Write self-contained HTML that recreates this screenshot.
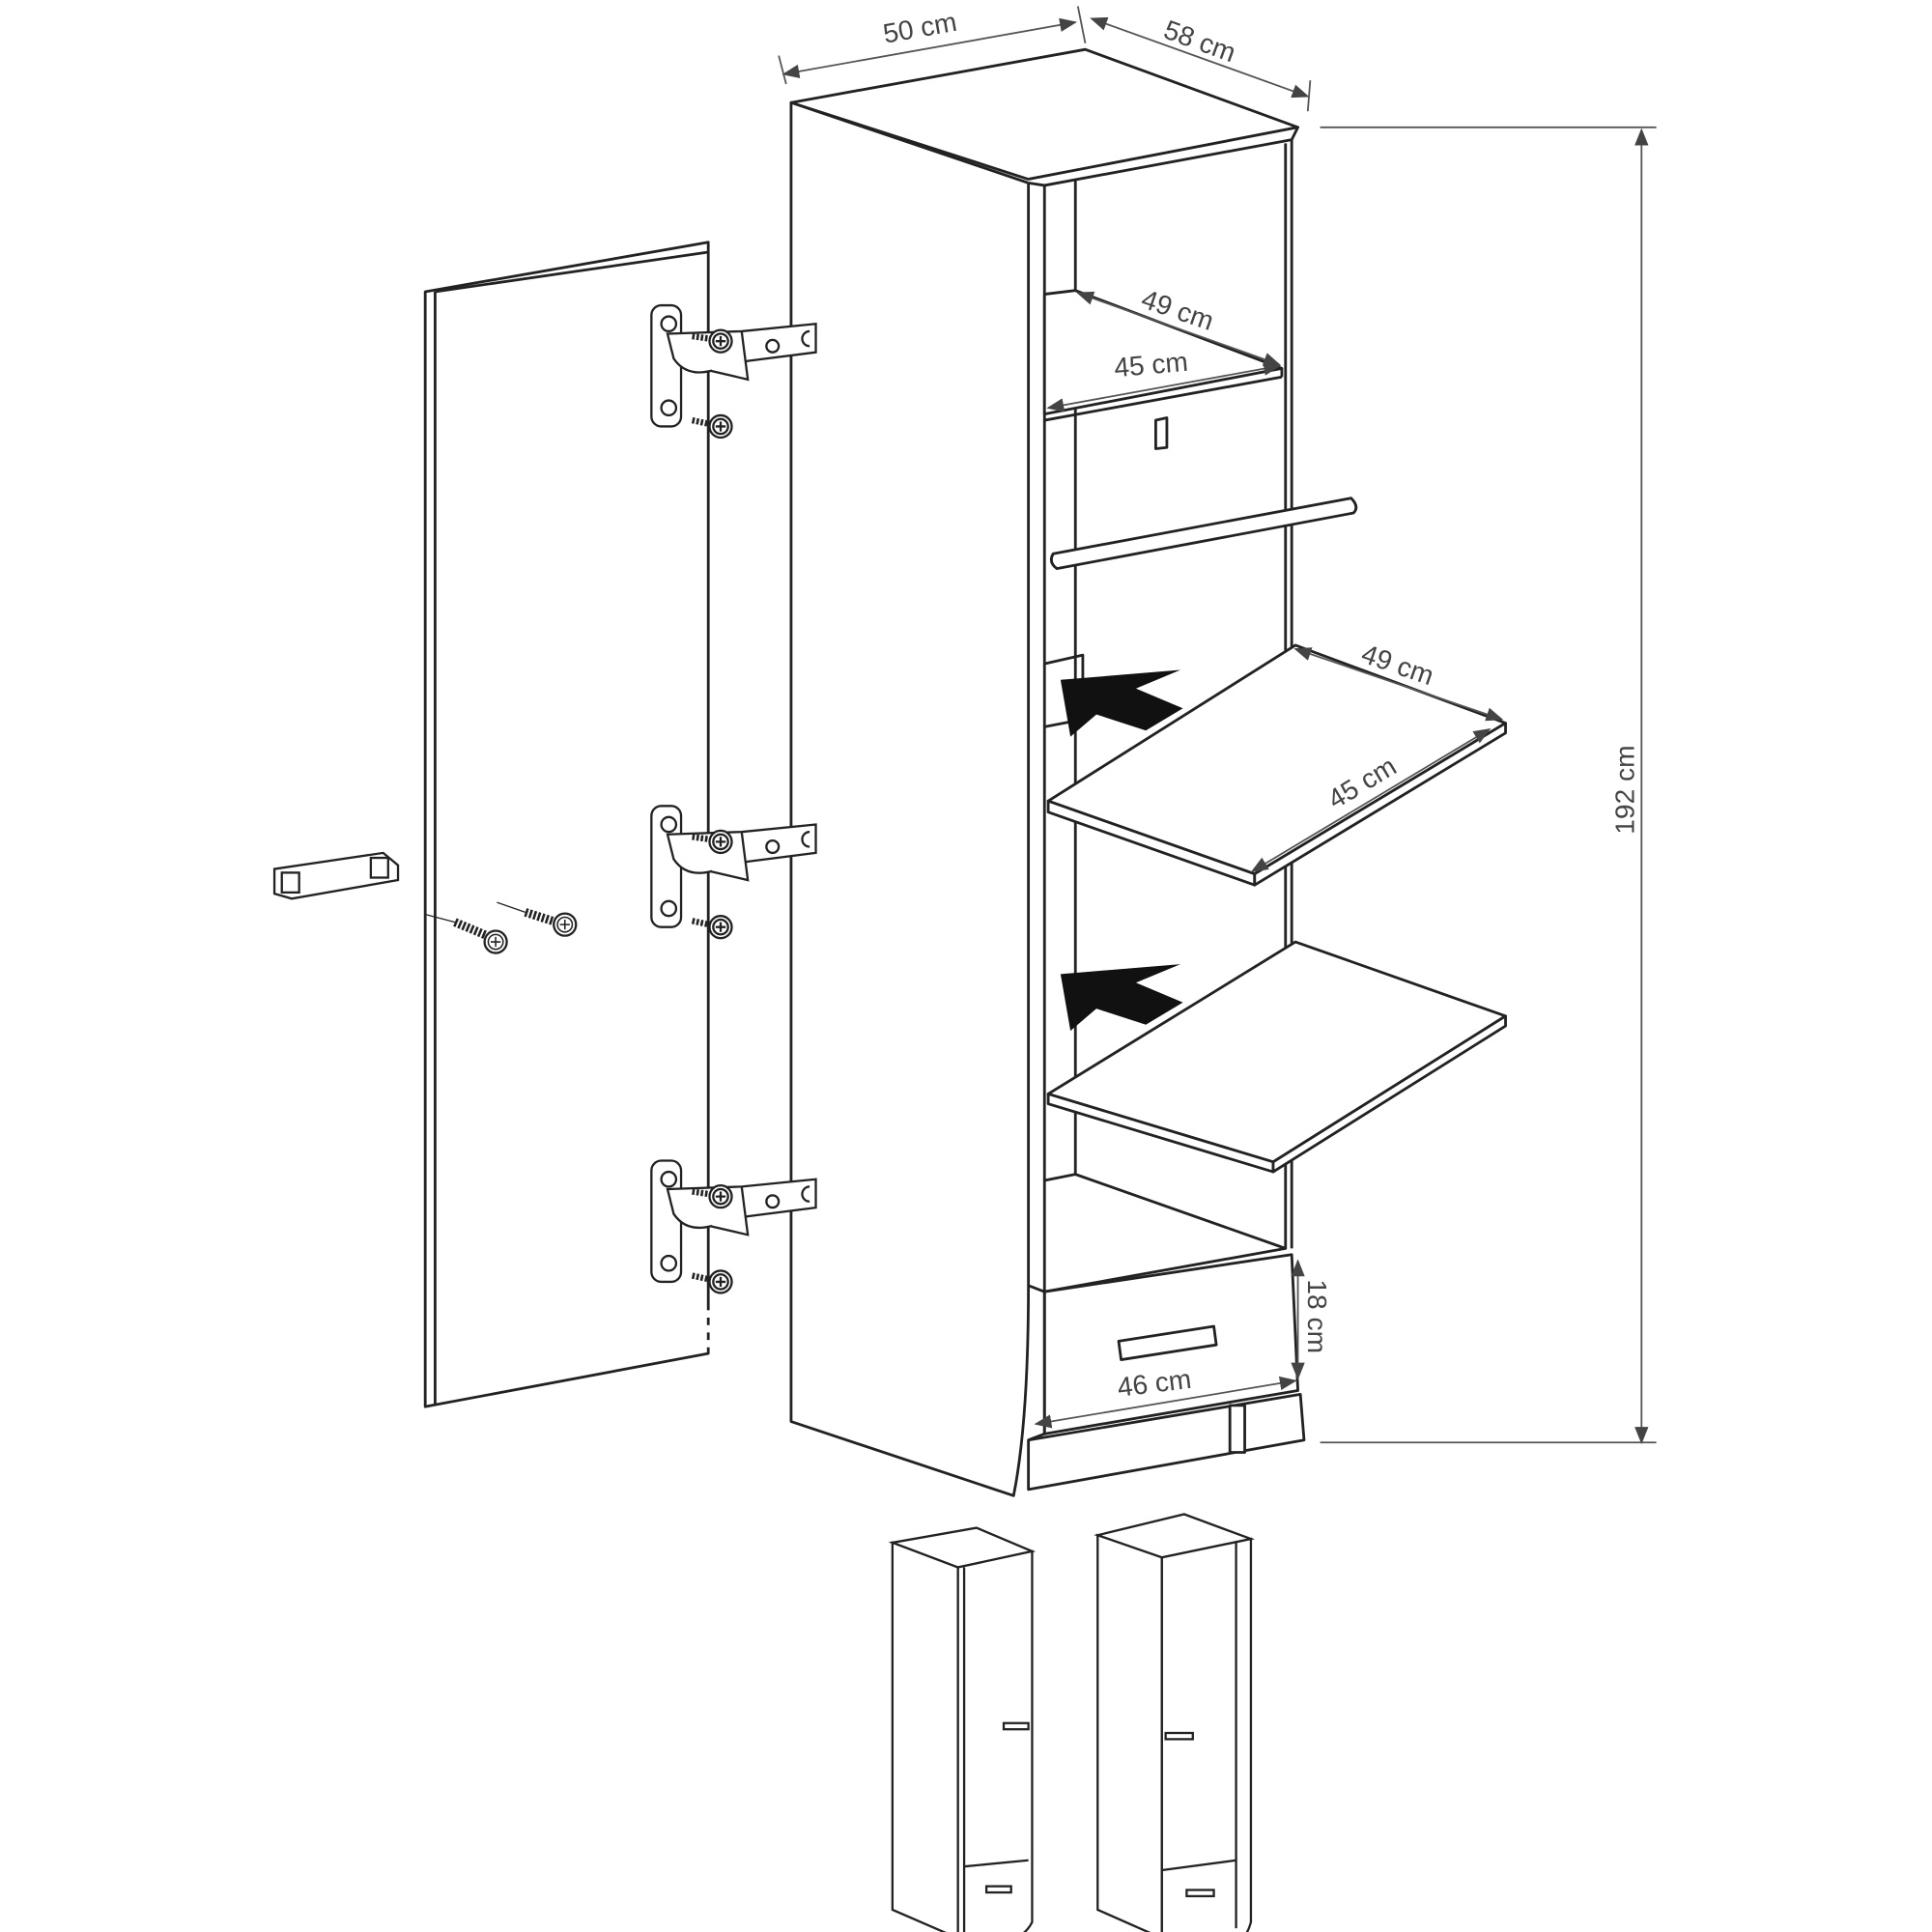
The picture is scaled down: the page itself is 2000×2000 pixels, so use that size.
<!DOCTYPE html>
<html><head><meta charset="utf-8"><style>
html,body{margin:0;padding:0;background:#fff;}
svg{display:block;}
text{font-family:"Liberation Sans",sans-serif;fill:#444;font-size:22px;}
</style></head><body>
<svg width="2000" height="2000" viewBox="0 0 1563 1563" xmlns="http://www.w3.org/2000/svg">
<defs>
<marker id="a" markerWidth="10" markerHeight="8" refX="9" refY="4" orient="auto-start-reverse"><path d="M0,0 L10,4 L0,8z" fill="#444"/></marker>
</defs>
<g fill="#fff" stroke="#222" stroke-width="2.2" stroke-linejoin="round">
<polygon points="640,83 878,40 1050,103 832,145"/>
<path d="M640,83 L832,148 L832,1040 Q832,1150 820,1210 L640,1150 Z"/>
<path d="M832,148 L845,150 L1045,113 L1050,103 L832,145"/>
<line x1="845" y1="150" x2="845" y2="1045"/>
<line x1="870" y1="145" x2="870" y2="950"/>
<line x1="1045" y1="113" x2="1045" y2="1010"/>
<line x1="1040" y1="116" x2="1040" y2="1010"/>
<polygon points="845,238 870,235 1037,298 845,335"/>
<line x1="845" y1="340" x2="1037" y2="305"/>
<line x1="1037" y1="298" x2="1037" y2="305"/>
<polyline points="845,955 870,950 1040,1010 845,1045" fill="none"/>
<polygon points="845,1045 1045,1015 1050,1125 845,1160"/>
<path d="M832,1040 L845,1045 L845,1160 L832,1165" fill="none"/>
<polygon points="832,1165 1052,1128 1055,1165 832,1205"/>
<rect x="995" y="1137" width="12" height="38" />
<polygon points="905,1085 982,1073 984,1088 907,1100"/>
<path d="M852,448 L1093,403 Q1100,410 1095,415 L855,460 Q848,455 852,448Z"/>
<path d="M935,340 L944,338 L944,362 L935,363 Z"/>
<polyline points="845,537 876,530 876,582 845,588" fill="none"/>
<polygon points="848,648 1048,522 1218,585 1015,707"/>
<polygon points="848,648 1015,707 1015,716 848,657"/>
<polygon points="1015,707 1218,585 1218,593 1015,716"/>
<polygon points="848,885 1048,762 1218,822 1030,940"/>
<polygon points="848,885 1030,940 1030,948 848,893"/>
<polygon points="1030,940 1218,822 1218,830 1030,948"/>
<polygon points="344,236 573,196 573,1095 344,1138"/>
<line x1="352" y1="236" x2="352" y2="1136"/>
<line x1="352" y1="236" x2="573" y2="204" />
</g>
<polygon points="858,550 955,542 919,557 957,573 927,591 887,578 866,596" fill="#111"/>
<polygon points="858,788 955,780 919,795 957,811 927,829 887,816 866,834" fill="#111"/>
<g fill="#fff" stroke="#222" stroke-width="1.8">
<g id="h">
<rect x="527" y="247" width="24" height="98" rx="8"/>
<path d="M540,270 L600,268 L660,262 L660,285 L605,292 L575,300 Q555,305 545,290Z"/>
<path d="M600,268 L605,307 L575,300"/>
<circle cx="541" cy="262" r="6"/><circle cx="541" cy="330" r="6"/>
<circle cx="625" cy="280" r="5"/>
<path d="M655,268 a6,6 0 1 0 0,12" fill="none"/>
<circle cx="583" cy="276" r="9"/><circle cx="583" cy="345" r="9"/>
<circle cx="583" cy="276" r="6"/><circle cx="583" cy="345" r="6"/>
<path d="M579,276h8M583,272v8M579,345h8M583,341v8"/>
<line x1="560" y1="272" x2="574" y2="274" stroke-width="5" stroke-dasharray="2,1.5"/><line x1="560" y1="340" x2="574" y2="343" stroke-width="5" stroke-dasharray="2,1.5"/>
</g>
<use href="#h" y="405"/>
<use href="#h" y="692"/>
<polygon points="222,703 310,690 322,700 322,712 236,727 222,723"/>
<rect x="228" y="706" width="14" height="16"/>
<rect x="300" y="694" width="14" height="16"/>
</g>
<g stroke="#222" fill="#fff">
<line x1="345" y1="740" x2="368" y2="746" stroke-width="1"/>
<line x1="368" y1="746" x2="394" y2="757" stroke-width="7" stroke-dasharray="2,1.5"/>
<circle cx="401" cy="762" r="9" stroke-width="1.8"/><circle cx="401" cy="762" r="6" stroke-width="1.2"/>
<path d="M397,762h8M401,758v8" stroke-width="1.2"/>
<line x1="402" y1="730" x2="425" y2="738" stroke-width="1"/>
<line x1="425" y1="738" x2="450" y2="746" stroke-width="7" stroke-dasharray="2,1.5"/>
<circle cx="457" cy="748" r="9" stroke-width="1.8"/><circle cx="457" cy="748" r="6" stroke-width="1.2"/>
<path d="M453,748h8M457,744v8" stroke-width="1.2"/>
</g>
<line x1="573" y1="1060" x2="573" y2="1095" stroke="#fff" stroke-width="3" stroke-dasharray="6,6"/>
<g fill="#fff" stroke="#222" stroke-width="1.8">
<polygon points="722,1248 790,1236 835,1255 775,1268"/>
<path d="M722,1248 L775,1268 L775,1568 L722,1545Z"/>
<path d="M775,1268 L835,1255 L835,1555 Q830,1565 820,1568 L775,1568Z"/>
<line x1="780" y1="1268" x2="780" y2="1568"/>
<rect x="812" y="1394" width="20" height="5"/>
<rect x="798" y="1526" width="20" height="5"/>
<line x1="780" y1="1510" x2="832" y2="1505"/>
<polygon points="888,1242 958,1225 1012,1245 940,1260"/>
<path d="M888,1242 L940,1260 L940,1568 L888,1545Z"/>
<path d="M940,1260 L1012,1245 L1012,1555 Q1008,1570 998,1572 L940,1575Z"/>
<line x1="1000" y1="1248" x2="1000" y2="1560"/>
<rect x="943" y="1402" width="22" height="5"/>
<rect x="960" y="1529" width="22" height="5"/>
<line x1="940" y1="1513" x2="1000" y2="1505"/>
</g>
<g stroke="#555" stroke-width="1.4" fill="none">
<line x1="634" y1="60" x2="870" y2="18" marker-start="url(#a)" marker-end="url(#a)"/>
<line x1="630" y1="45" x2="636" y2="68"/><line x1="872" y1="5" x2="878" y2="35"/>
<line x1="883" y1="15" x2="1058" y2="78" marker-start="url(#a)" marker-end="url(#a)"/>
<line x1="1060" y1="65" x2="1058" y2="90"/>
<line x1="1328" y1="105" x2="1328" y2="1167" marker-start="url(#a)" marker-end="url(#a)"/>
<line x1="1068" y1="103" x2="1340" y2="103"/><line x1="1068" y1="1167" x2="1340" y2="1167"/>
<line x1="872" y1="237" x2="1035" y2="295" marker-start="url(#a)" marker-end="url(#a)"/>
<line x1="848" y1="330" x2="1035" y2="296" marker-start="url(#a)" marker-end="url(#a)"/>
<line x1="1048" y1="525" x2="1215" y2="582" marker-start="url(#a)" marker-end="url(#a)"/>
<line x1="1013" y1="705" x2="1205" y2="590" marker-start="url(#a)" marker-end="url(#a)"/>
<line x1="1050" y1="1020" x2="1050" y2="1115" marker-start="url(#a)" marker-end="url(#a)"/>
<line x1="838" y1="1152" x2="1048" y2="1117" marker-start="url(#a)" marker-end="url(#a)"/>
</g>
<text transform="translate(716,35) rotate(-10)">50 cm</text>
<text transform="translate(940,30) rotate(20)">58 cm</text>
<text transform="translate(1322,675) rotate(-90)">192 cm</text>
<text transform="translate(922,248) rotate(19)">49 cm</text>
<text transform="translate(902,305) rotate(-5)">45 cm</text>
<text transform="translate(1100,535) rotate(19)">49 cm</text>
<text transform="translate(1080,655) rotate(-31)">45 cm</text>
<text transform="translate(1058,1035) rotate(90)">18 cm</text>
<text transform="translate(905,1130) rotate(-7)">46 cm</text>
</svg>
</body></html>
